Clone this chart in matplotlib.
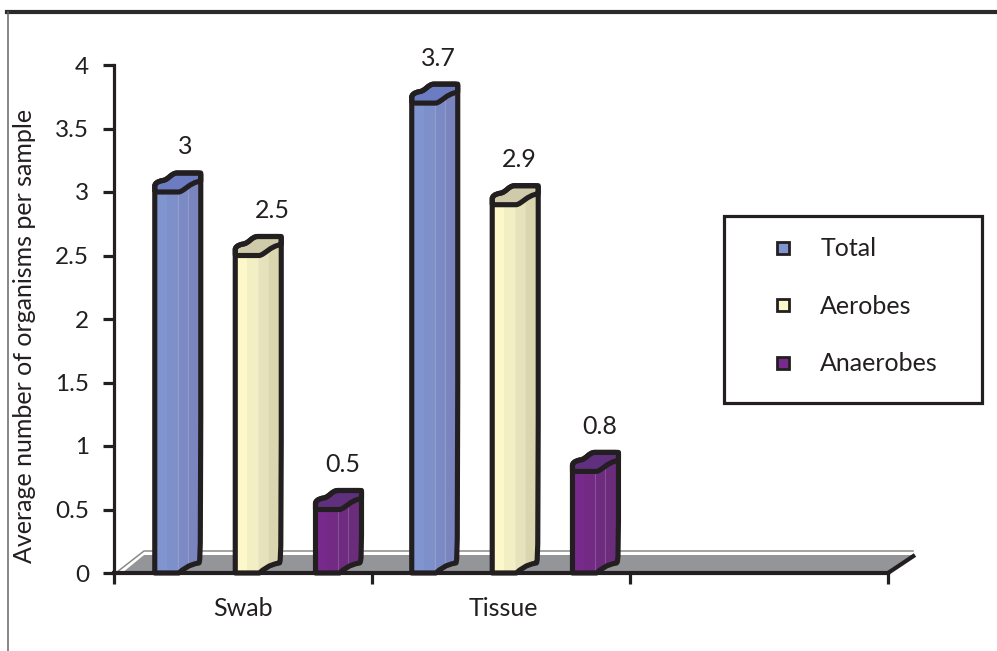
import matplotlib
matplotlib.use("Agg")
import matplotlib.pyplot as plt
from matplotlib.lines import Line2D
from matplotlib.patches import PathPatch, Polygon, Rectangle
from matplotlib.path import Path

plt.rcParams["font.family"] = ["Lato", "DejaVu Sans"]

categories = ["Swab", "Tissue", ""]
series_names = ["Total", "Aerobes", "Anaerobes"]
total = [3.0, 3.7]
aerobes = [2.5, 2.9]
anaerobes = [0.5, 0.8]
y_ticks = [0, 0.5, 1, 1.5, 2, 2.5, 3, 3.5, 4]
y_tick_labels = ["0", "0.5", "1", "1.5", "2", "2.5", "3", "3.5", "4"]

INK = "#231f20"
PALETTES = {
    "Total": ["#8095cf", "#7d90c9", "#7b8ac4", "#7a84bf"],
    "Aerobes": ["#fdf8c9", "#f2efc5", "#e6e3bc", "#dad7b0"],
    "Anaerobes": ["#772a8b", "#722a85", "#6e2b80", "#6a2c7b"],
}
TOPS = {"Total": "#6b7cc2", "Aerobes": "#cfcbaa", "Anaerobes": "#60307f"}

W, H = 997, 651
fig = plt.figure(figsize=(W / 100, H / 100), dpi=100, facecolor="white")
ax = fig.add_axes([114 / W, (H - 573) / H, (888 - 114) / W, (573 - 65) / H])
ax.set_xlim(0, 3)
ax.set_ylim(0, 4)
ax.patch.set_visible(False)

# data units per screen pixel, used for the fixed pseudo-3D depth
PX = 3 / (888 - 114)
PY = 4 / (573 - 65)


def offset(x, v, dx, dy):
    return (x + dx * PX, v + dy * PY)


def draw_floor():
    ax.add_patch(Polygon([offset(0, 0, 8, 0), offset(0, 0, 30, 18), offset(3, 0, 27, 18), offset(3, 0, 0, 0)],
                         closed=True, fc="#939598", ec="none", zorder=1, clip_on=False))
    ax.add_line(Line2D(*zip(offset(0, 0, 3, 1), offset(0, 0, 30, 22), offset(3, 0, 25, 22)),
                       color="#8a8a85", lw=1.1, zorder=1, clip_on=False))
    ax.add_line(Line2D(*zip(offset(3, 0, 0, 0), offset(3, 0, 27, 18)),
                       color=INK, lw=3, zorder=1, clip_on=False, solid_capstyle="butt"))


def draw_bar(x, v, name):
    p = lambda dx, dy, base=v: offset(x, base, dx, dy)
    verts = [p(0, 0), p(0, 0, 0),
             p(24, 0, 0), p(29, 4, 0), p(33, 8, 0), p(44, 10, 0), p(46, 11, 0), p(46, 16, 0),
             p(46, 12), p(46, 15), p(46, 17),
             p(46, 19), p(44, 19), p(42, 19),
             p(22, 19), p(16, 18.5), p(14, 12.5), p(8, 11.5),
             p(2, 10.5), p(0, 8), p(0, 6), p(0, 0)]
    codes = [Path.MOVETO, Path.LINETO,
             Path.LINETO, Path.CURVE4, Path.CURVE4, Path.CURVE4, Path.CURVE4, Path.CURVE4,
             Path.LINETO, Path.CURVE4, Path.CURVE4,
             Path.CURVE4, Path.CURVE4, Path.CURVE4,
             Path.LINETO, Path.CURVE4, Path.CURVE4, Path.CURVE4,
             Path.CURVE4, Path.CURVE4, Path.CURVE4, Path.LINETO]
    body = PathPatch(Path(verts, codes), fc="none", ec="none", zorder=3, clip_on=False)
    ax.add_patch(body)

    # vertical shading bands across the rounded column
    edges = [0, 12, 23, 33, 47]
    for left, right, colour in zip(edges[:-1], edges[1:], PALETTES[name]):
        band = Rectangle(offset(x, 0, left, 0), (right - left) * PX, v + 30 * PY,
                         fc=colour, ec="none", zorder=3)
        ax.add_patch(band)
        band.set_clip_path(body)
    for rib in (23, 33):
        line = Line2D(*zip(offset(x, 0, rib, 0), offset(x, v, rib, 19)),
                      color="white", alpha=0.18, lw=0.8, zorder=3)
        ax.add_line(line)
        line.set_clip_path(body)

    top_verts = [p(0, 0), p(0, 6), p(0, 8), p(2, 10.5), p(8, 11.5),
                 p(14, 12.5), p(16, 18.5), p(22, 19),
                 p(42, 19), p(44, 19), p(46, 19), p(46, 17),
                 p(46, 11), p(34, 9), p(30, 1), p(24, 0), p(0, 0)]
    top_codes = [Path.MOVETO, Path.LINETO, Path.CURVE4, Path.CURVE4, Path.CURVE4,
                 Path.CURVE4, Path.CURVE4, Path.CURVE4,
                 Path.LINETO, Path.CURVE4, Path.CURVE4, Path.CURVE4,
                 Path.LINETO, Path.CURVE4, Path.CURVE4, Path.CURVE4, Path.LINETO]
    ax.add_patch(PathPatch(Path(top_verts, top_codes), fc=TOPS[name], ec="none", zorder=4, clip_on=False))

    ax.add_patch(PathPatch(Path(verts, codes), fc="none", ec=INK, lw=3.7, zorder=5,
                           joinstyle="round", clip_on=False))
    ax.add_patch(PathPatch(Path(top_verts, top_codes), fc="none", ec=INK, lw=3.7, zorder=5,
                           joinstyle="round", clip_on=False))


draw_floor()

bar_starts = [0.158, 0.47, 0.781]
group_starts = [0, 0.996]
label_shift = {(0, 0): 30, (0, 1): 37}

for j, (name, values) in enumerate(zip(series_names, [total, aerobes, anaerobes])):
    for i, v in enumerate(values):
        x = group_starts[i] + bar_starts[j]
        draw_bar(x, v, name)
        ax.annotate(f"{v:g}", xy=(x, v), xytext=(label_shift.get((i, j), 27) * 0.72, 45 * 0.72),
                    textcoords="offset points", ha="center", va="center",
                    fontsize=18, color=INK, annotation_clip=False)

# axes
for side in ("top", "right"):
    ax.spines[side].set_visible(False)
ax.spines["left"].set_linewidth(2.3)
ax.spines["left"].set_color(INK)
ax.spines["bottom"].set_linewidth(3)
ax.spines["bottom"].set_color(INK)
ax.spines["left"].set_zorder(6)
ax.spines["bottom"].set_zorder(6)

ax.set_yticks(y_ticks, y_tick_labels)
ax.tick_params(axis="y", length=8, width=2.3, color=INK, pad=10, labelsize=17.5, labelcolor=INK)
ax.set_xticks([0, 1, 2, 3], [])
ax.tick_params(axis="x", which="major", length=8, width=2.3, color=INK)
ax.set_xticks([0.5, 1.51, 2.5], categories, minor=True)
ax.tick_params(axis="x", which="minor", length=0, pad=17.5, labelsize=18, labelcolor=INK)

ax.set_ylabel("Average number of organisms per sample", fontsize=18, color=INK, va="center")
ax.yaxis.set_label_coords((24 - 114) / (888 - 114), (573 - 336) / (573 - 65))

# legend box and entries
ax.add_patch(Rectangle((724 / W, (H - 403) / H), 258 / W, 187 / H, transform=fig.transFigure,
                       fc="white", ec=INK, lw=2.3, zorder=9, clip_on=False))
handles = [Line2D([], [], ls="none", marker="s", ms=8.0, mfc=PALETTES[n][0], mec=INK, mew=2.0)
           for n in series_names]
leg = ax.legend(handles, series_names, loc="upper left", frameon=False, fontsize=18,
                labelcolor=INK, bbox_to_anchor=(737 / W, (H - 216) / H), bbox_transform=fig.transFigure,
                handlelength=2.0, handletextpad=0.48, labelspacing=1.38, borderpad=0.85, borderaxespad=0)
leg.set_zorder(10)

# page rules above and to the left
fig.add_artist(Line2D([7 / W, 1], [(H - 12) / H] * 2, color="#2a2a2a", lw=3, transform=fig.transFigure))
fig.add_artist(Line2D([7.5 / W] * 2, [0, (H - 12) / H], color="#666666", lw=1.1, transform=fig.transFigure))

fig.savefig("out.png", dpi=100, facecolor="white")
